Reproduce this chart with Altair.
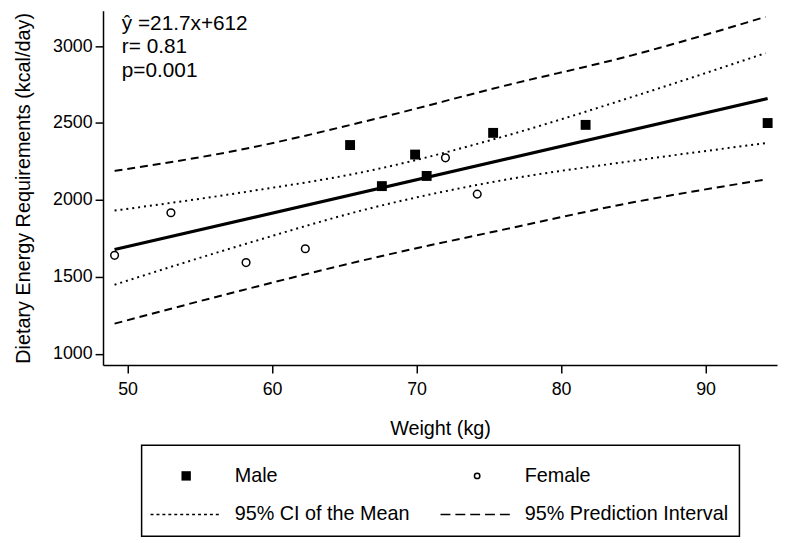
import altair as alt
import pandas as pd

FONT = "Liberation Sans"

# Data points
male_weight = [65.4, 67.6, 69.9, 70.7, 75.3, 81.7, 94.3]
male_energy = [2357, 2090, 2295, 2156, 2436, 2488, 2500]
female_weight = [49.1, 53.0, 58.2, 62.3, 72.0, 74.2]
female_energy = [1640, 1917, 1593, 1683, 2274, 2038]

# Regression line (ŷ = 21.7x + 612)
fit_x = [49.1, 94.3]
fit_y = [1678, 2659]

# Confidence / prediction bands
band_x = [49.1, 57.8, 67.1, 76.0, 84.9, 94.15]
pi_upper = [2189, 2326, 2526, 2740, 2940, 3190]
ci_upper = [1931, 2047, 2197, 2412, 2669, 2954]
ci_lower = [1449, 1704, 1953, 2129, 2253, 2369]
pi_lower = [1196, 1410, 1625, 1807, 1983, 2133]

annotation = ["ŷ =21.7x+612", "r= 0.81", "p=0.001"]
legend_labels = ["Male", "Female", "95% CI of the Mean", "95% Prediction Interval"]

x_ticks = [50, 60, 70, 80, 90]
y_ticks = [1000, 1500, 2000, 2500, 3000]

male_df = pd.DataFrame({"w": male_weight, "e": male_energy})
female_df = pd.DataFrame({"w": female_weight, "e": female_energy})
fit_df = pd.DataFrame({"w": fit_x, "e": fit_y})

rows = []
for name, vals in [("ci_u", ci_upper), ("ci_l", ci_lower)]:
    for xv, yv in zip(band_x, vals):
        rows.append({"w": xv, "e": yv, "band": name})
ci_df = pd.DataFrame(rows)
rows = []
for name, vals in [("pi_u", pi_upper), ("pi_l", pi_lower)]:
    for xv, yv in zip(band_x, vals):
        rows.append({"w": xv, "e": yv, "band": name})
pi_df = pd.DataFrame(rows)

xscale = alt.Scale(domain=[48.3, 94.95], nice=False, zero=False)
yscale = alt.Scale(domain=[927, 3230], nice=False, zero=False)

X = alt.X("w:Q", scale=xscale,
          axis=alt.Axis(title="Weight (kg)", values=x_ticks, format="d",
                        labelPadding=8, titlePadding=20))
Y = alt.Y("e:Q", scale=yscale,
          axis=alt.Axis(title="Dietary Energy Requirements (kcal/day)", values=y_ticks, format="d",
                        labelPadding=3, titlePadding=19))

pi_layer = alt.Chart(pi_df).mark_line(
    color="black", strokeWidth=2, strokeDash=[8, 5], interpolate="monotone"
).encode(x=X, y=Y, detail="band:N")

ci_layer = alt.Chart(ci_df).mark_line(
    color="black", strokeWidth=2, strokeDash=[2, 4], interpolate="monotone"
).encode(x=X, y=Y, detail="band:N")

fit_layer = alt.Chart(fit_df).mark_line(color="black", strokeWidth=3.2).encode(x=X, y=Y)

male_layer = alt.Chart(male_df).mark_point(
    shape="square", filled=True, size=100, color="black", opacity=1
).encode(x=X, y=Y)

female_layer = alt.Chart(female_df).mark_point(
    shape="circle", filled=False, size=60, color="black", strokeWidth=1.5, opacity=1
).encode(x=X, y=Y)

ann_layers = []
for i, t in enumerate(annotation):
    ann_layers.append(
        alt.Chart(pd.DataFrame({"t": [t]})).mark_text(
            align="left", baseline="alphabetic", font=FONT, fontSize=21, color="black"
        ).encode(text="t:N", x=alt.value(19), y=alt.value(19 + 24 * i))
    )

# Legend (drawn below the plot area)
legend_box = alt.Chart(pd.DataFrame({"k": [0]})).mark_rect(
    fill="white", stroke="black", strokeWidth=1.5
).encode(x=alt.value(39), x2=alt.value(643), y=alt.value(439), y2=alt.value(531))

leg_sq = alt.Chart(pd.DataFrame({"t": [legend_labels[0]]})).mark_point(
    shape="square", filled=True, size=90, color="black", opacity=1
).encode(x=alt.value(84), y=alt.value(470))
leg_circ = alt.Chart(pd.DataFrame({"t": [legend_labels[1]]})).mark_point(
    shape="circle", filled=False, size=30, color="black", strokeWidth=1.5, opacity=1
).encode(x=alt.value(378), y=alt.value(470))
leg_ci = alt.Chart(pd.DataFrame({"t": [legend_labels[2]]})).mark_rule(
    color="black", strokeWidth=1.5, strokeDash=[3, 3]
).encode(x=alt.value(48), x2=alt.value(118), y=alt.value(509))
leg_pi = alt.Chart(pd.DataFrame({"t": [legend_labels[3]]})).mark_rule(
    color="black", strokeWidth=1.5, strokeDash=[10, 5]
).encode(x=alt.value(341), x2=alt.value(414), y=alt.value(509))

leg_text_pos = [(133, 470), (426, 470), (133, 509), (426, 509)]
leg_texts = []
for lab, (lx, ly) in zip(legend_labels, leg_text_pos):
    leg_texts.append(
        alt.Chart(pd.DataFrame({"t": [lab]})).mark_text(
            align="left", baseline="middle", font=FONT, fontSize=20, color="black"
        ).encode(text="t:N", x=alt.value(lx), y=alt.value(ly))
    )

chart = alt.layer(
    pi_layer, ci_layer, fit_layer, female_layer, male_layer, *ann_layers,
    legend_box, leg_sq, leg_circ, leg_ci, leg_pi, *leg_texts
).properties(
    width=681, height=358,
    autosize=alt.AutoSizeParams(type="none"),
    padding={"left": 96, "top": 0, "right": 4, "bottom": 172},
).configure_view(stroke=None).configure_axis(
    grid=False,
    domainColor="black", domainWidth=1.5,
    tickColor="black", tickWidth=1.5, tickSize=8,
    labelColor="black", labelFont=FONT, labelFontSize=18,
    titleColor="black", titleFont=FONT, titleFontSize=20, titleFontWeight="normal",
)

chart.save("out.html", embed_options={"renderer": "svg", "actions": False})
